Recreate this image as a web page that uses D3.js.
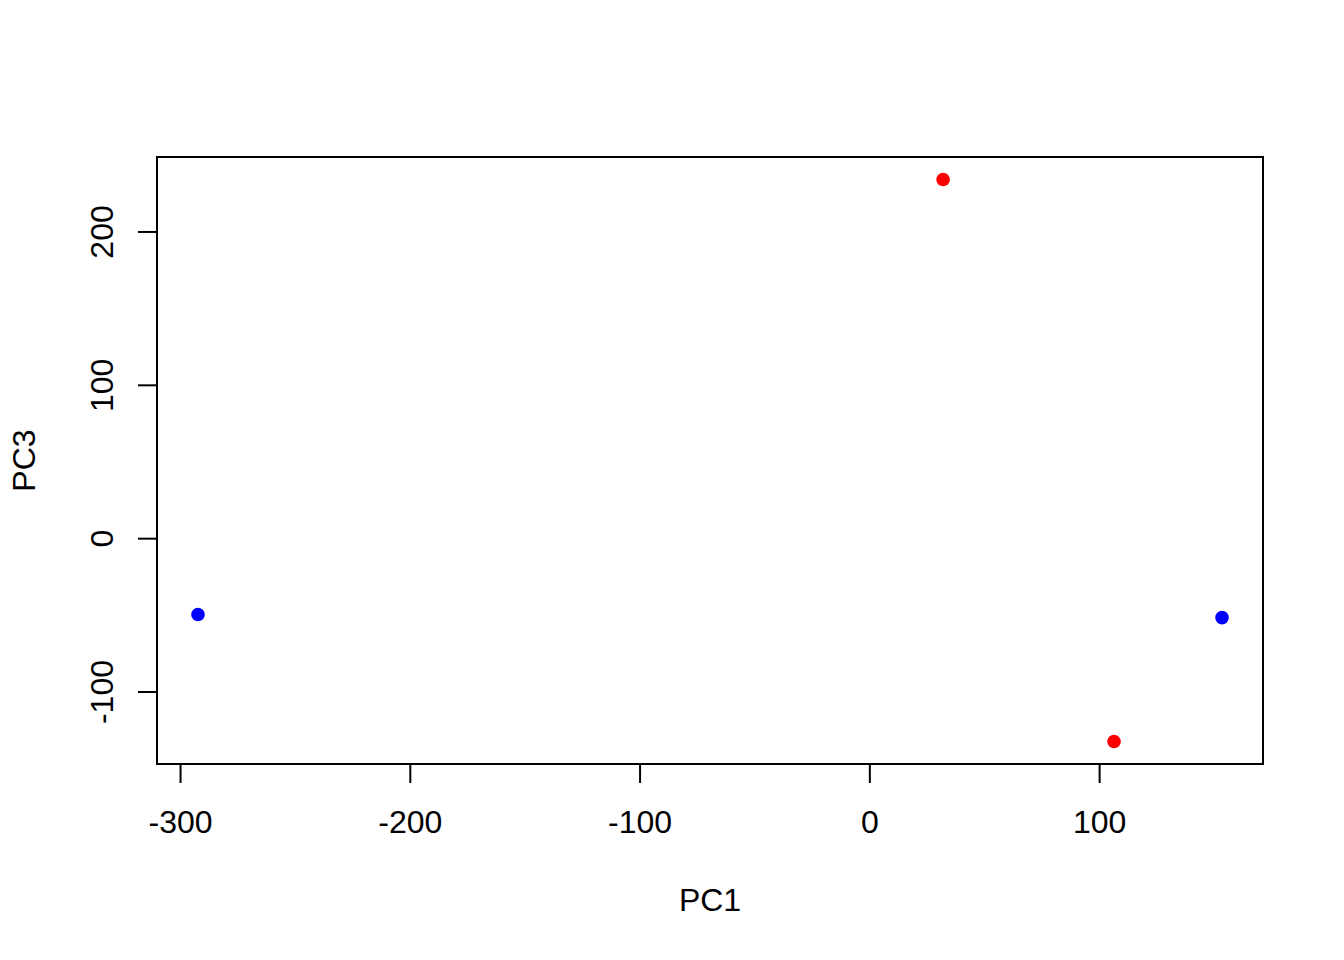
<!DOCTYPE html>
<html>
<head>
<meta charset="utf-8">
<script src="https://cdn.jsdelivr.net/npm/d3@7"></script>
<style>
  html, body { margin: 0; padding: 0; background: #ffffff; }
  svg { display: block; }
  text { font-family: "Liberation Sans", Arial, sans-serif; fill: #000; }
</style>
</head>
<body>
<svg id="chart" width="1344" height="960"></svg>
<script>
// ---- data ----
const samples = ["S1", "S2", "S3", "S4"];
const pc1 = [32.1, 106.5, -292.2, 153.5];
const pc3 = [233.9, -132.6, -49.8, -51.8];
const groups = ["red", "red", "blue", "blue"];
const xTicks = [-300, -200, -100, 0, 100];
const yTicks = [-100, 0, 100, 200];
const xLabel = "PC1";
const yLabel = "PC3";

// ---- layout ----
const W = 1344, H = 960;
const plot = { left: 157, right: 1263, top: 157, bottom: 764 };
const fontSize = 32;

const svg = d3.select("#chart");

// R-style 4% extension of the data range
function rRange(vals) {
  const [a, b] = d3.extent(vals);
  const pad = (b - a) * 0.04;
  return [a - pad, b + pad];
}

const x = d3.scaleLinear().domain(rRange(pc1)).range([plot.left, plot.right]);
const y = d3.scaleLinear().domain(rRange(pc3)).range([plot.bottom, plot.top]);

// x axis
const xAxis = svg.append("g")
  .attr("transform", `translate(0,${plot.bottom})`)
  .call(d3.axisBottom(x).tickValues(xTicks).tickSize(19).tickSizeOuter(0).tickFormat(d => String(d)));
xAxis.select(".domain")
  .attr("d", `M${x(xTicks[0])},0H${x(xTicks[xTicks.length - 1])}`)
  .attr("stroke", "#000").attr("stroke-width", 2);
xAxis.selectAll(".tick line").attr("stroke", "#000").attr("stroke-width", 2);
xAxis.selectAll(".tick text")
  .attr("y", 69).attr("dy", 0)
  .style("font-size", fontSize + "px")
  .style("font-family", '"Liberation Sans", Arial, sans-serif')
  .attr("fill", "#000");

// y axis
const yAxis = svg.append("g")
  .attr("transform", `translate(${plot.left},0)`)
  .call(d3.axisLeft(y).tickValues(yTicks).tickSize(19).tickSizeOuter(0).tickFormat(d => String(d)));
yAxis.select(".domain")
  .attr("d", `M0,${y(yTicks[0])}V${y(yTicks[yTicks.length - 1])}`)
  .attr("stroke", "#000").attr("stroke-width", 2);
yAxis.selectAll(".tick line").attr("stroke", "#000").attr("stroke-width", 2);
yAxis.selectAll(".tick text")
  .attr("transform", "rotate(-90)")
  .attr("x", 0).attr("y", -44).attr("dy", 0)
  .attr("text-anchor", "middle")
  .style("font-size", fontSize + "px")
  .style("font-family", '"Liberation Sans", Arial, sans-serif')
  .attr("fill", "#000");

// plot box
svg.append("rect")
  .attr("x", plot.left).attr("y", plot.top)
  .attr("width", plot.right - plot.left).attr("height", plot.bottom - plot.top)
  .attr("fill", "none").attr("stroke", "#000").attr("stroke-width", 2);

// axis titles
svg.append("text")
  .attr("x", (plot.left + plot.right) / 2).attr("y", 911)
  .attr("text-anchor", "middle")
  .style("font-size", fontSize + "px")
  .text(xLabel);

svg.append("text")
  .attr("transform", `translate(35,${(plot.top + plot.bottom) / 2}) rotate(-90)`)
  .attr("text-anchor", "middle")
  .style("font-size", fontSize + "px")
  .text(yLabel);

// points
const colorMap = { red: "#ff0000", blue: "#0000ff" };
svg.append("g").selectAll("circle")
  .data(samples.map((s, i) => ({ s, x: pc1[i], y: pc3[i], g: groups[i] })))
  .join("circle")
  .attr("cx", d => x(d.x))
  .attr("cy", d => y(d.y))
  .attr("r", 6.8)
  .attr("fill", d => colorMap[d.g]);
</script>
</body>
</html>
